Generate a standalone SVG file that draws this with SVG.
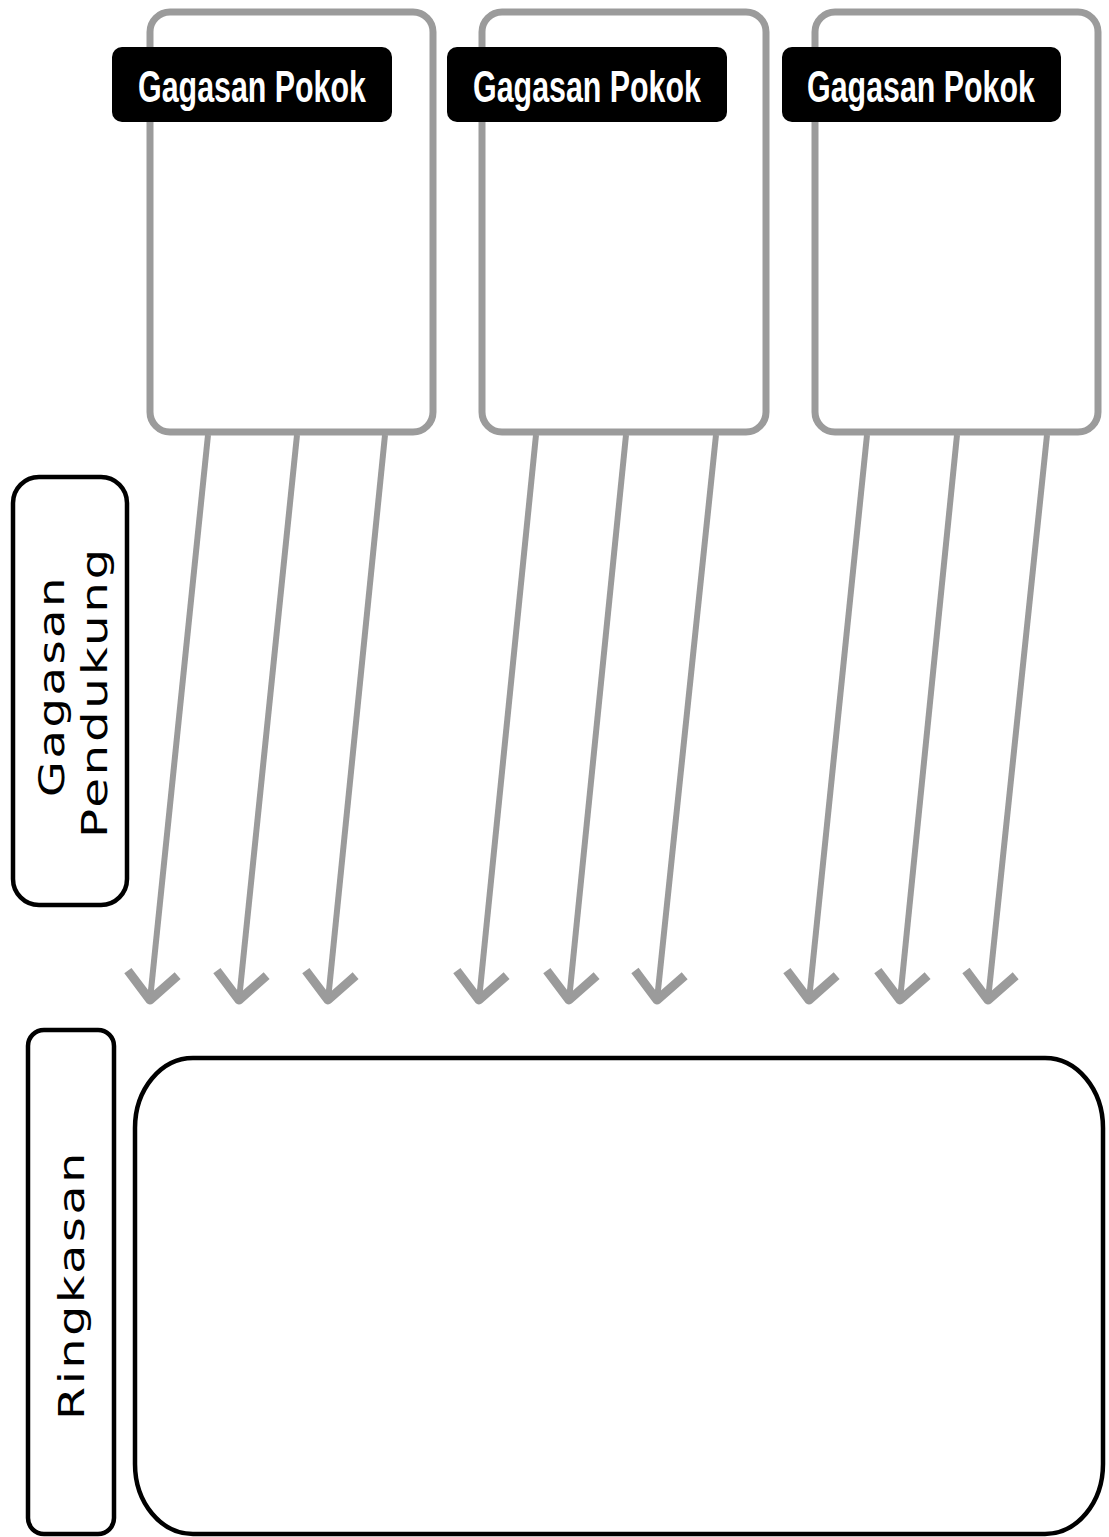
<svg xmlns="http://www.w3.org/2000/svg" width="1109" height="1537" viewBox="0 0 1109 1537">
<style>
.gbox{fill:#fff;stroke:#9b9b9b;stroke-width:7}
.lbl{fill:#000}
.lt{fill:#fff;font-family:"Liberation Sans",Arial,sans-serif;font-size:45px;font-weight:bold;text-anchor:middle}
.bbox{fill:#fff;stroke:#000;stroke-width:4.5}
.vt{fill:#000;font-family:"DejaVu Sans",Verdana,sans-serif;font-size:36px;letter-spacing:2px;text-anchor:middle}
.arr{stroke:#9b9b9b;stroke-width:6;fill:none;marker-end:url(#head)}
</style>
<defs>
<marker id="head" markerUnits="userSpaceOnUse" orient="auto" refX="0" refY="0" markerWidth="60" markerHeight="60" viewBox="-40 -30 50 60" overflow="visible">
<path d="M-27,-25 L0,0 L-27,25" fill="none" stroke="#9b9b9b" stroke-width="9" stroke-linejoin="round" stroke-linecap="butt"/>
</marker>
</defs>
<rect width="1109" height="1537" fill="#fff"/>
<g id="pokok1">
<rect class="gbox" x="150" y="12" width="283" height="420" rx="20"/>
<rect class="lbl" x="112" y="47" width="280" height="75" rx="10"/>
<text class="lt" transform="translate(252,102) scale(0.675,1)">Gagasan Pokok</text>
</g>
<g id="pokok2">
<rect class="gbox" x="482" y="12" width="284" height="420" rx="20"/>
<rect class="lbl" x="447" y="47" width="280" height="75" rx="10"/>
<text class="lt" transform="translate(587,102) scale(0.675,1)">Gagasan Pokok</text>
</g>
<g id="pokok3">
<rect class="gbox" x="815" y="12" width="283" height="420" rx="20"/>
<rect class="lbl" x="782" y="47" width="279" height="75" rx="10"/>
<text class="lt" transform="translate(921,102) scale(0.675,1)">Gagasan Pokok</text>
</g>
<g id="connectors">
<line class="arr" x1="208" y1="435" x2="150" y2="1000"/>
<line class="arr" x1="297" y1="435" x2="239" y2="1000"/>
<line class="arr" x1="385" y1="435" x2="328" y2="1000"/>
<line class="arr" x1="536" y1="435" x2="479" y2="1000"/>
<line class="arr" x1="626" y1="435" x2="569" y2="1000"/>
<line class="arr" x1="716" y1="435" x2="657" y2="1000"/>
<line class="arr" x1="867" y1="435" x2="809" y2="1000"/>
<line class="arr" x1="957" y1="435" x2="900" y2="1000"/>
<line class="arr" x1="1047" y1="435" x2="988" y2="1000"/>
</g>
<g id="pendukung">
<rect class="bbox" x="13" y="477" width="114" height="428" rx="26"/>
<g transform="rotate(-90)">
<text class="vt" x="-686" y="64" textLength="222" lengthAdjust="spacingAndGlyphs">Gagasan</text>
<text class="vt" x="-692" y="107" textLength="292" lengthAdjust="spacingAndGlyphs">Pendukung</text>
</g>
</g>
<g id="ringkasan-label">
<rect class="bbox" x="28" y="1030" width="86" height="504" rx="16"/>
<g transform="rotate(-90)">
<text class="vt" x="-1285" y="84" textLength="270" lengthAdjust="spacingAndGlyphs">Ringkasan</text>
</g>
</g>
<g id="ringkasan-box">
<rect class="bbox" x="135" y="1058" width="968" height="476" rx="58" ry="70" stroke-width="5"/>
</g>
</svg>
